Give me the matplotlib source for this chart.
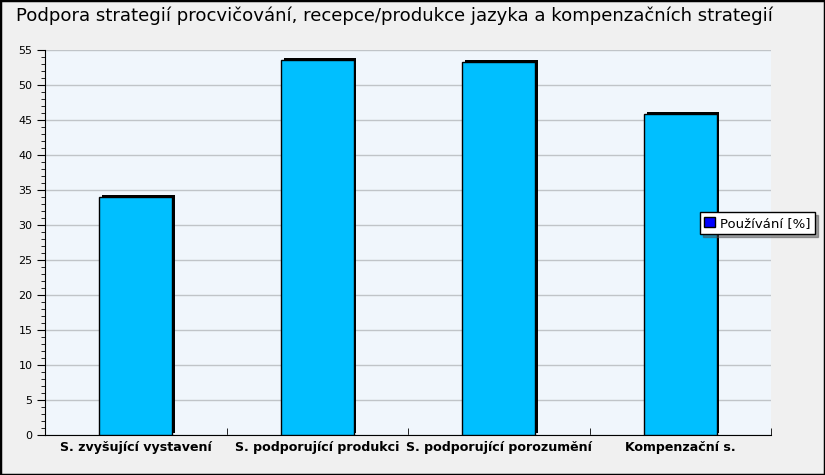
import numpy as np
import matplotlib
matplotlib.use("Agg")
import matplotlib.pyplot as plt
import matplotlib.patheffects as pe
from matplotlib.patches import Rectangle
from matplotlib.ticker import MultipleLocator

# data
categories = ["S. zvyšující vystavení", "S. podporující produkci",
              "S. podporující porozumění", "Kompenzační s."]
values = [34.0, 53.6, 53.3, 45.9]
series_name = "Používání [%]"
title = "Podpora strategií procvičování, recepce/produkce jazyka a kompenzačních strategií"

fig = plt.figure(figsize=(8.25, 4.75), dpi=100)
fig.patch.set_facecolor("#f0f0f0")
ax = fig.add_axes([45/825, 40/475, 726/825, 385/475])
ax.set_facecolor("#f0f6fc")

x = np.arange(len(categories))
bars = ax.bar(x, values, width=0.4, color="#00bfff", edgecolor="black",
              linewidth=1.0, zorder=3)
for b in bars:
    b.set_path_effects([pe.SimplePatchShadow(offset=(2, 1.5), shadow_rgbFace="black", alpha=1.0),
                        pe.Normal()])

ax.set_xlim(-0.5, len(categories) - 0.5)
ax.set_ylim(0, 55)
ax.yaxis.set_major_locator(MultipleLocator(5))
ax.yaxis.set_minor_locator(MultipleLocator(1))
ax.grid(axis="y", which="major", color="#c0c4c8", linewidth=1.0, zorder=0)

ax.set_xticks(np.arange(len(categories) + 1) - 0.5, minor=True)
ax.set_xticks(x)
ax.set_xticklabels(categories, fontsize=9.1, fontweight="bold", family="DejaVu Sans")
ax.tick_params(axis="x", which="major", length=0, pad=4)
ax.tick_params(axis="x", which="minor", direction="in", length=5, color="black")
ax.tick_params(axis="y", which="major", direction="out", length=6, labelsize=8, pad=3)
ax.tick_params(axis="y", which="minor", direction="out", length=3)

for s in ["top", "right"]:
    ax.spines[s].set_visible(False)
ax.spines["left"].set_color("black")
ax.spines["bottom"].set_color("black")

fig.text(394.5/825, 0.967, title, ha="center", va="center", fontsize=13.1)

leg = ax.legend([bars[0]], [series_name], loc="center left",
                bbox_to_anchor=(0.902, 0.55), frameon=True, fancybox=False,
                shadow=True, fontsize=9.5, handlelength=0.8, handleheight=0.8,
                handletextpad=0.4, borderpad=0.35, borderaxespad=0)
leg.get_frame().set_edgecolor("black")
leg.get_frame().set_facecolor("white")
h = leg.legend_handles[0]
h.set_facecolor("#0000ff")
h.set_edgecolor("black")
h.set_path_effects([])

fig.patches.append(Rectangle((0, 0), 1, 1, transform=fig.transFigure,
                             fill=False, edgecolor="black", linewidth=2.5))

fig.savefig("out.png", dpi=100, facecolor=fig.get_facecolor())
